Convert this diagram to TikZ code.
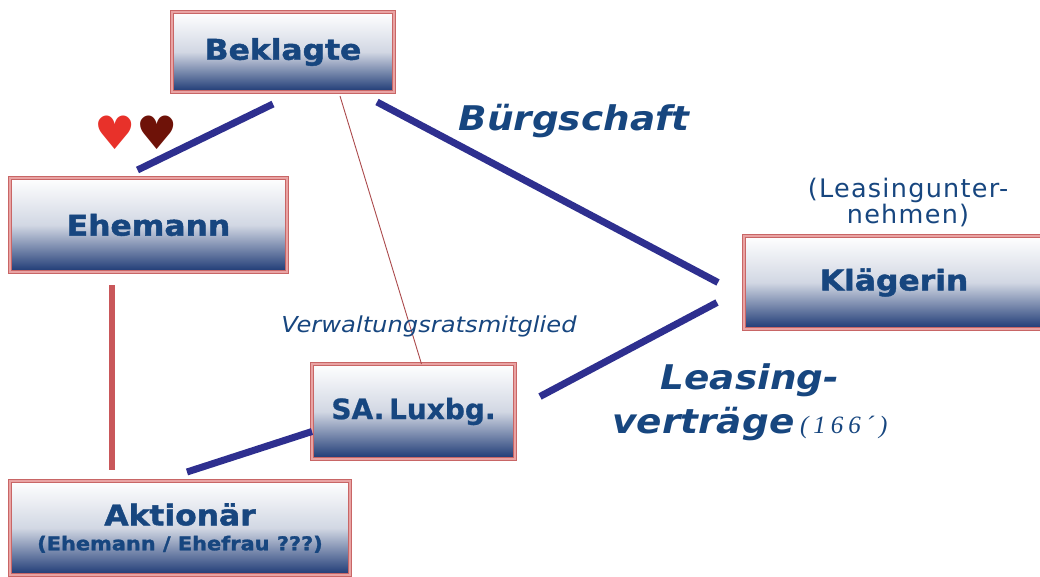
\documentclass[tikz,border=0pt]{standalone}
\usepackage{fontspec}
\setmainfont{DejaVu Sans}
\newfontfamily\boxfont[FakeStretch=1.1,FakeBold=1.6]{DejaVu Sans}
\newfontfamily\safont[FakeBold=0.8]{DejaVu Sans}
\newfontfamily\titfont[FakeStretch=1.1]{DejaVu Sans}
\newfontfamily\smlfont[LetterSpace=5]{DejaVu Sans}
\newfontfamily\numfont[LetterSpace=20]{Liberation Serif}
\usepackage{tikz}
\usetikzlibrary{positioning}

\definecolor{boxnavy}{HTML}{1C3874}
\definecolor{txtnavy}{HTML}{17467F}
\definecolor{boxrose}{HTML}{E9A3A3}
\definecolor{boxline}{HTML}{C86666}
\definecolor{linkblue}{HTML}{2E2F8F}
\definecolor{linkred}{HTML}{C9575A}
\definecolor{heartred}{HTML}{E8312A}
\definecolor{heartdark}{HTML}{6E1208}

\tikzset{
    party/.style={draw=boxline, line width=0.8pt, double=boxrose, double distance=2.4pt,
        top color=white, bottom color=boxnavy, middle color=boxnavy!20,
        text=txtnavy, font=\boxfont\bfseries\fontsize{28.5}{32}\selectfont, outer sep=0pt},
    band/.style={line width=7pt, linkblue},
    redband/.style={line width=6.5pt, linkred},
    thinred/.style={line width=0.9pt, linkred!85!black},
    biglabel/.style={text=txtnavy, font=\titfont\bfseries\itshape\fontsize{34}{40}\selectfont}
}

\begin{document}
\begin{tikzpicture}[x=1pt, y=-1pt]
    \useasboundingbox (0,0) rectangle (1040,577);

    % Parteien
    \node[party, minimum width=222pt, minimum height=80pt] (bek) at (283,52) {Beklagte};
    \node[party, minimum width=277pt, minimum height=94pt] (ehe) at (148.5,225) {Ehemann};
    \node[party, minimum width=300pt, minimum height=93pt] (kla) at (894,282.5) {Klägerin};
    \node[party, minimum width=203pt, minimum height=95pt, font=\safont\bfseries\fontsize{28}{32}\selectfont] (sa) at (413.5,411.5) {SA.\,Luxbg.};
    \node[party, minimum width=340pt, minimum height=94pt, align=center] (akt) at (180,528)
        {Aktionär\\[-7pt]{\fontsize{19}{20}\selectfont(Ehemann / Ehefrau ???)}};

    % Verbindungen
    \draw[band] ([xshift=-10pt,yshift=-12pt]bek.south) -- ([xshift=-11pt,yshift=8pt]ehe.north);
    \draw[band] ([xshift=-17pt,yshift=-10pt]bek.south east) -- ([xshift=-26pt]kla.west);
    \draw[thinred] ([xshift=57pt,yshift=-4pt]bek.south) -- ([xshift=8pt]sa.north);
    \draw[redband] ([xshift=-36.5pt,yshift=-13pt]ehe.south) -- ([xshift=-68pt,yshift=11pt]akt.north);
    \draw[band] ([yshift=-20pt]sa.west) -- ([xshift=7pt,yshift=9pt]akt.north);
    \draw[band] ([xshift=25pt,yshift=15pt]sa.east) -- ([xshift=-27pt,yshift=-20pt]kla.west);

    % Herzen
    \node[text=heartred, font=\fontsize{46}{46}\selectfont] (hz1) at (115,133) {♥};
    \node[text=heartdark, font=\fontsize{46}{46}\selectfont] (hz2) at (157,133) {♥};

    % Beschriftungen
    \node[biglabel] (bue) at (574,121) {Bürgschaft};
    \node[text=txtnavy, font=\titfont\itshape\fontsize{22}{25}\selectfont] (vrm) at (429,326) {Verwaltungsratsmitglied};
    \node[text=txtnavy, font=\smlfont\fontsize{25.5}{26}\selectfont, align=center] (lun) at (908,202)
        {(Leasingunter-\\nehmen)};
    \node[biglabel] (lea) at (750,380) {Leasing-};
    \node[biglabel, below=4pt of lea] (vtr)
        {verträge\,{\numfont\mdseries\fontsize{25}{30}\selectfont(166´)}};
\end{tikzpicture}
\end{document}
